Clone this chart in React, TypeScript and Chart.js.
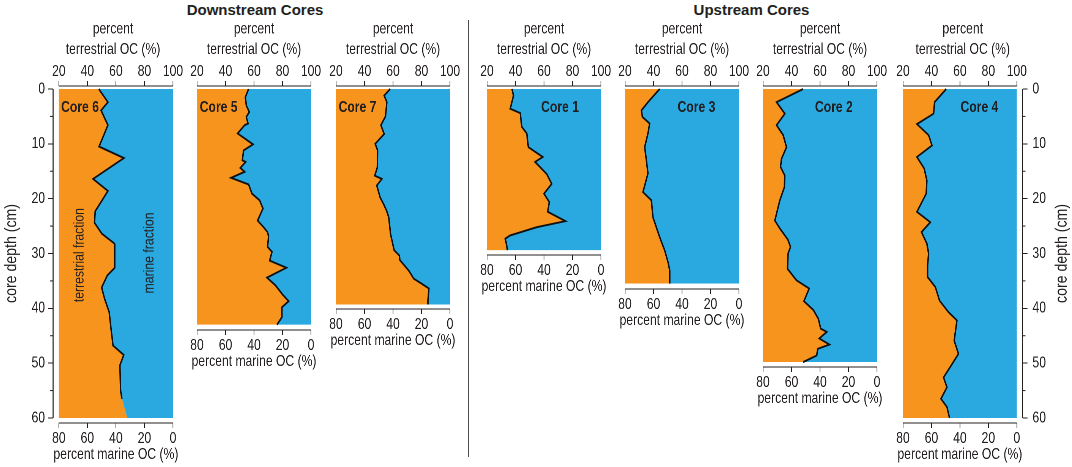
import React, { useEffect, useRef } from 'react'
import { Chart, registerables } from 'chart.js'

Chart.register(...registerables)

// values: depth (cm) and percent terrestrial OC
const core6Depth = [0, 2.4, 3.9, 6.6, 10.5, 12.6, 16.4, 18.6, 22.3, 24.4, 26.4, 28.2, 32.6, 34, 36.2, 38.2, 40.7, 44, 46.8, 48.5, 50.4, 55, 56.5, 60]
const core6Terr = [48, 54.4, 49.6, 54.4, 48.2, 65.6, 44, 54.4, 45.5, 45, 50.2, 59, 59.2, 54, 50, 52, 55.3, 56.7, 58, 65.5, 62.8, 63.3, 64.2, 68]

const core5Depth = [0, 1.5, 3, 4.2, 5.1, 6.3, 6.6, 8.1, 10.1, 11.2, 13, 13.3, 14.4, 15.1, 16.2, 17.4, 19.1, 20.3, 21.8, 24, 25.2, 26.1, 26.9, 28.8, 29.7, 31.3, 32.6, 34.4, 35.8, 37.6, 38.7, 39.8, 41.6, 43]
const core5Terr = [56.2, 53.9, 54.6, 56.7, 54.6, 55.8, 53.4, 48.5, 59.3, 52.7, 51.8, 54.1, 50.4, 53.4, 43.9, 56.2, 58.6, 63.9, 66.3, 62.5, 66.7, 69.5, 70.2, 69.5, 72.6, 71, 82.7, 69.1, 75, 80.4, 84.3, 79.6, 79.6, 76.1]

const core7Depth = [0, 1.2, 2.4, 5, 6.6, 8.2, 10, 11.2, 14.3, 15.8, 16.4, 17.6, 19.8, 21, 22.2, 23.4, 26.5, 29.4, 30.4, 31.2, 33.1, 34.6, 35.4, 36.4, 38.6, 39.3]
const core7Terr = [58, 53.8, 55.7, 54.7, 51.5, 53.8, 47.5, 49.2, 49, 47.2, 52.2, 48.6, 51, 53.4, 55.5, 57, 58.3, 60.8, 64.5, 64.8, 71, 74.6, 79.5, 85.2, 84.5, 84.5]

const core1Depth = [0, 1.2, 3.6, 4.4, 6.9, 8.1, 10.6, 12.4, 13.3, 15.5, 17.3, 19.1, 20.6, 22.4, 24.1, 25.2, 26.7, 27.3, 28.8, 29.4]
const core1Terr = [37.5, 38.6, 36.3, 43.3, 44.4, 47.9, 49, 59.1, 53.7, 61.9, 65.4, 60, 63.7, 62.6, 75, 54.9, 36.3, 32.8, 34, 34.3]

const core3Depth = [0, 2.4, 3.9, 5.1, 6.3, 8.1, 10.6, 13, 15.4, 18.8, 20.3, 23.4, 27, 29.4, 31.6, 33.1, 35.5]
const core3Terr = [44.3, 36.1, 31.5, 32.2, 37.3, 36.1, 33.8, 35, 36.1, 32.6, 38.5, 39.6, 44.3, 47.8, 50.2, 51.4, 51.4]

const core2Depth = [0, 2.4, 4.5, 6.6, 8.4, 10.6, 12.7, 14.2, 15.8, 17.9, 20.3, 24, 25.5, 27.5, 28.8, 30, 32.8, 34.9, 36.4, 38.7, 40.3, 41.9, 43.7, 44.3, 45.5, 46.6, 47.4, 48.6, 49.8]
const core2Terr = [48.2, 29.5, 35.3, 29.5, 34.1, 36.5, 33, 32.3, 35.3, 35, 31.8, 28.3, 32, 37.5, 39.3, 37.6, 37.2, 43.5, 52.4, 48.7, 55.3, 58.8, 60.5, 64.7, 59.5, 66.6, 58.4, 57.7, 48.2]

const core4Depth = [0, 2.4, 4.5, 6.4, 8.4, 10.3, 12.4, 14.5, 16.7, 19.1, 22.4, 24.3, 26.1, 28.2, 30, 32.2, 34.3, 36.1, 38.6, 40.7, 42.2, 45.9, 48.3, 50.7, 52.6, 54.4, 56.5, 58, 60]
const core4Terr = [50.4, 42.2, 41.5, 29.8, 38, 40.4, 29.8, 34.9, 36.8, 36.3, 29.8, 39.2, 33, 36.8, 38, 37.3, 37.3, 42.7, 45.7, 52, 57.9, 56, 59, 53.2, 48.5, 50.9, 46.7, 50.9, 52.7]

const terrTicks = [20, 40, 60, 80, 100]
const depthTicks = [0, 10, 20, 30, 40, 50, 60]
const minorDepthTicks = [5, 15, 25, 35, 45, 55]

const ORANGE = '#f7941d'
const BLUE = '#29a9e0'
const INK = '#231f20'
const SANS = "'Liberation Sans', Arial, sans-serif"

// the figure uses a narrow face; canvases are drawn wide and shown squeezed
const SQUEEZE = 0.76
const PX_PER_CM = 5.483
const PX_PER_PCT = 1.425
const TOP_BOX = 86
const BOTTOM_BOX = 44
const GAP_TOP = 3
const GAP_BOTTOM = 5
const GAP_SIDE = 5.7
const SIDE_PAD = 14

type Panel = {
  label: string
  depth: number[]
  terr: number[]
  left: number
  yAxis: 'left' | 'right' | null
  labelX: number
  labelAlign: 'left' | 'right'
  fractions?: boolean
  strokeUntil?: number
}

const panels: Panel[] = [
  { label: 'Core 6', depth: core6Depth, terr: core6Terr, left: 58.7, yAxis: 'left', labelX: 21.6, labelAlign: 'left', fractions: true, strokeUntil: 56.5 },
  { label: 'Core 5', depth: core5Depth, terr: core5Terr, left: 197.3, yAxis: null, labelX: 21.9, labelAlign: 'left' },
  { label: 'Core 7', depth: core7Depth, terr: core7Terr, left: 335.7, yAxis: null, labelX: 21.8, labelAlign: 'left' },
  { label: 'Core 1', depth: core1Depth, terr: core1Terr, left: 486.7, yAxis: null, labelX: 84.5, labelAlign: 'right' },
  { label: 'Core 3', depth: core3Depth, terr: core3Terr, left: 625.3, yAxis: null, labelX: 83.4, labelAlign: 'right' },
  { label: 'Core 2', depth: core2Depth, terr: core2Terr, left: 763.3, yAxis: null, labelX: 83, labelAlign: 'right' },
  { label: 'Core 4', depth: core4Depth, terr: core4Terr, left: 902.7, yAxis: 'right', labelX: 87, labelAlign: 'right' },
]

function geometry(p: Panel) {
  const maxDepth = p.depth[p.depth.length - 1]
  const xMin = p.yAxis === 'left' ? 20 - GAP_SIDE / PX_PER_PCT : 20
  const xMax = p.yAxis === 'right' ? 100 + GAP_SIDE / PX_PER_PCT : 100
  const yMin = -GAP_TOP / PX_PER_CM
  const areaLeft = p.left - (20 - xMin) * PX_PER_PCT
  const areaRight = areaLeft + (xMax - xMin) * PX_PER_PCT
  const canvasLeft = p.yAxis === 'left' ? 0 : areaLeft - SIDE_PAD
  const canvasRight = p.yAxis === 'right' ? 1072 : areaRight + SIDE_PAD
  const cssW = canvasRight - canvasLeft
  const logicalW = Math.round(cssW / SQUEEZE)
  const s = cssW / logicalW
  const height = Math.round(TOP_BOX + (maxDepth + (GAP_TOP + GAP_BOTTOM) / PX_PER_CM) * PX_PER_CM + BOTTOM_BOX)
  const yMax = yMin + (height - TOP_BOX - BOTTOM_BOX) / PX_PER_CM
  return { maxDepth, xMin, xMax, yMin, yMax, areaLeft, areaRight, canvasLeft, cssW, logicalW, s, height }
}

const decor = {
  id: 'decor',
  afterDraw(chart: any) {
    const o = chart.options.plugins.decor
    const { ctx, chartArea } = chart
    const x = chart.scales.x
    const y = chart.scales.y
    const s = o.s
    const seg = (x1: number, y1: number, x2: number, y2: number) => {
      ctx.beginPath()
      ctx.moveTo(x1, y1)
      ctx.lineTo(x2, y2)
      ctx.stroke()
    }
    // rotated text, reading upwards, un-squeezed in its thickness
    const upText = (t: string, px: number, py: number, size: number, len: number, baseline: string) => {
      ctx.save()
      ctx.translate(px, py)
      ctx.rotate(-Math.PI / 2)
      ctx.scale(1, 1 / s)
      ctx.font = `${size}px ${SANS}`
      ctx.textAlign = 'center'
      ctx.textBaseline = baseline
      ctx.fillText(t, 0, 0, len)
      ctx.restore()
    }
    ctx.save()
    ctx.strokeStyle = INK
    ctx.fillStyle = INK
    ctx.lineWidth = 1
    const x20 = x.getPixelForValue(20)
    const x100 = x.getPixelForValue(100)
    seg(x20, chartArea.top, x100, chartArea.top)
    seg(x20, chartArea.bottom, x100, chartArea.bottom)

    // bottom axis title
    ctx.font = `16px ${SANS}`
    ctx.textAlign = 'center'
    ctx.textBaseline = 'middle'
    ctx.fillText('percent marine OC (%)', x.getPixelForValue(60), chartArea.bottom + 31.5)

    if (o.yAxis) {
      const ax = o.yAxis === 'left' ? chartArea.left : chartArea.right
      const dir = o.yAxis === 'left' ? -1 : 1
      ctx.lineWidth = 1 / s
      seg(ax, y.getPixelForValue(0), ax, y.getPixelForValue(o.maxDepth))
      ctx.lineWidth = 1
      minorDepthTicks.forEach((v) => {
        const py = y.getPixelForValue(v)
        seg(ax, py, ax + (dir * 3) / s, py)
      })
      const midY = (y.getPixelForValue(0) + y.getPixelForValue(o.maxDepth)) / 2
      const tx = o.yAxis === 'left' ? 11.8 / s : chartArea.right + 39.5 / s
      upText('core depth (cm)', tx, midY, 17, 99, 'middle')
    }

    ctx.font = `bold 16px ${SANS}`
    ctx.textAlign = o.labelAlign
    ctx.textBaseline = 'alphabetic'
    ctx.fillText(o.label, x.getPixelForValue(o.labelX), y.getPixelForValue(4.2))

    if (o.fractions) {
      upText('terrestrial fraction', x.getPixelForValue(37.3), y.getPixelForValue(30.3), 15, 94, 'alphabetic')
      upText('marine fraction', x.getPixelForValue(86.4), y.getPixelForValue(29.9), 15, 81, 'alphabetic')
    }
    ctx.restore()
  },
}

function CorePanel({ panel }: { panel: Panel }) {
  const canvasRef = useRef<HTMLCanvasElement>(null)
  const g = geometry(panel)

  useEffect(() => {
    if (!canvasRef.current) return
    const points = panel.depth.map((d, i) => ({ x: panel.terr[i], y: d }))
    const stroked = points.filter((p) => panel.strokeUntil === undefined || p.y <= panel.strokeUntil)
    const s = g.s
    const hGrid = {
      display: true,
      drawOnChartArea: false,
      drawTicks: true,
      tickLength: 5,
      color: INK,
      tickColor: INK,
      lineWidth: 1,
    }
    const vGrid = { ...hGrid, tickLength: 5 / s }
    const tickFont = { family: SANS, size: 16, lineHeight: 1.2 }
    const xTicks = () => terrTicks.map((v) => ({ value: v }))

    const chart = new Chart(canvasRef.current, {
      type: 'line',
      data: {
        datasets: [
          {
            data: stroked,
            xAxisID: 'x',
            yAxisID: 'y',
            borderColor: '#111',
            borderWidth: 1.9,
            fill: false,
            pointRadius: 0,
            tension: 0,
          },
          {
            data: points,
            xAxisID: 'x',
            yAxisID: 'y',
            borderWidth: 0,
            borderColor: 'rgba(0,0,0,0)',
            backgroundColor: ORANGE,
            fill: { value: 20 },
            pointRadius: 0,
            tension: 0,
          },
          {
            data: points,
            xAxisID: 'x',
            yAxisID: 'y',
            borderWidth: 0,
            borderColor: 'rgba(0,0,0,0)',
            backgroundColor: BLUE,
            fill: { value: 100 },
            pointRadius: 0,
            tension: 0,
          },
        ],
      },
      options: {
        indexAxis: 'y',
        animation: false,
        responsive: false,
        devicePixelRatio: 2,
        layout: {
          padding: {
            left: panel.yAxis === 'left' ? 0 : SIDE_PAD / s,
            right: panel.yAxis === 'right' ? 0 : SIDE_PAD / s,
            top: 0,
            bottom: 0,
          },
        },
        plugins: {
          legend: { display: false },
          tooltip: { enabled: false },
          decor: {
            label: panel.label,
            labelX: panel.labelX,
            labelAlign: panel.labelAlign,
            yAxis: panel.yAxis,
            maxDepth: g.maxDepth,
            fractions: !!panel.fractions,
            s,
          },
        } as any,
        scales: {
          x: {
            type: 'linear',
            position: 'top',
            min: g.xMin,
            max: g.xMax,
            afterBuildTicks: (sc: any) => {
              sc.ticks = xTicks()
            },
            afterFit: (sc: any) => {
              sc.height = TOP_BOX
            },
            grid: hGrid,
            border: { display: false },
            ticks: { color: INK, font: tickFont, padding: 0, maxRotation: 0, autoSkip: false },
            title: {
              display: true,
              text: ['percent', 'terrestrial OC (%)'],
              color: INK,
              font: { family: SANS, size: 16, lineHeight: 1.3 },
              padding: { top: 18.5, bottom: 0 },
            },
          },
          x2: {
            type: 'linear',
            axis: 'x',
            position: 'bottom',
            min: g.xMin,
            max: g.xMax,
            afterBuildTicks: (sc: any) => {
              sc.ticks = xTicks()
            },
            afterFit: (sc: any) => {
              sc.height = BOTTOM_BOX
            },
            grid: hGrid,
            border: { display: false },
            ticks: {
              color: INK,
              font: tickFont,
              padding: 1,
              maxRotation: 0,
              autoSkip: false,
              callback: (v: any) => String(100 - Number(v)),
            },
          },
          y: {
            type: 'linear',
            display: panel.yAxis !== null,
            position: panel.yAxis === 'right' ? 'right' : 'left',
            reverse: true,
            min: g.yMin,
            max: g.yMax,
            afterBuildTicks: (sc: any) => {
              sc.ticks = depthTicks.filter((v) => v <= g.maxDepth).map((v) => ({ value: v }))
            },
            afterFit: (sc: any) => {
              if (panel.yAxis === 'right') sc.width = (1072 - g.areaRight) / s
              else if (panel.yAxis === 'left') sc.width = g.areaLeft / s
            },
            grid: vGrid,
            border: { display: false },
            ticks: {
              color: INK,
              font: tickFont,
              padding: (panel.yAxis === 'right' ? 5 : 3) / s,
              autoSkip: false,
            },
          },
        },
      },
      plugins: [decor],
    } as any)

    return () => chart.destroy()
  }, [])

  return (
    <canvas
      ref={canvasRef}
      width={g.logicalW}
      height={g.height}
      style={{
        position: 'absolute',
        left: g.canvasLeft,
        top: 0,
        width: g.cssW,
        height: g.height,
      }}
    />
  )
}

const groupTitle: React.CSSProperties = {
  position: 'absolute',
  top: 1,
  width: 200,
  textAlign: 'center',
  font: `bold 15px ${SANS}`,
  lineHeight: '18px',
  color: INK,
}

export default function App() {
  return (
    <div
      style={{
        position: 'absolute',
        left: 0,
        top: 0,
        width: 1072,
        height: 467,
        background: '#fff',
        overflow: 'hidden',
      }}
    >
      <div style={{ ...groupTitle, left: 255 - 100 }}>Downstream Cores</div>
      <div style={{ ...groupTitle, left: 751.5 - 100 }}>Upstream Cores</div>
      <div style={{ position: 'absolute', left: 468, top: 20, width: 1, height: 437, background: '#4d4d4d' }} />
      {panels.map((p) => (
        <CorePanel key={p.label} panel={p} />
      ))}
    </div>
  )
}
